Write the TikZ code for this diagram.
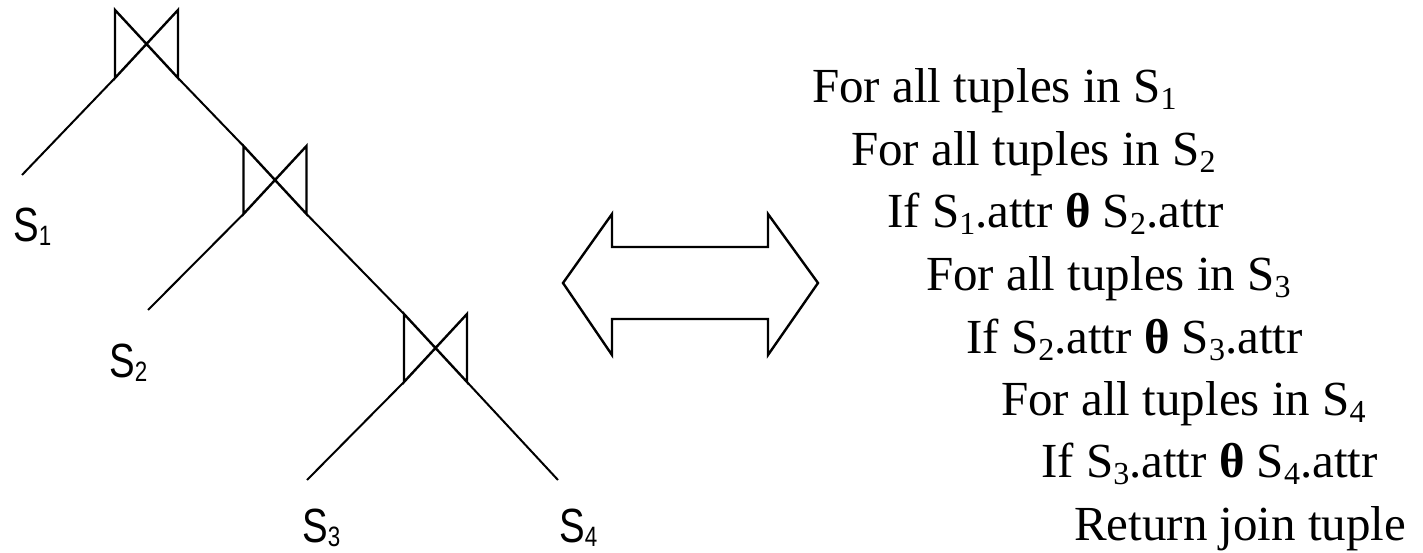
\documentclass[tikz,border=0pt]{standalone}
\usepackage{fontspec}
\setmainfont{Liberation Serif}
\newfontfamily\relfont[FakeStretch=0.8]{Liberation Sans}
% lowered, smaller indices for relation names (no added depth)
\newcommand\codesub[1]{\raisebox{-7pt}[\height][0pt]{\fontsize{32}{32}\selectfont #1}}
\newcommand\relsub[1]{\raisebox{-4pt}[\height][0pt]{\fontsize{28}{28}\selectfont #1}}
\newcommand\thetaop{\textbf{θ}}
\tikzset{
  % bow-tie join symbol with named corners
  joinsym/.pic={
    \draw[line width=2.4pt, line join=miter]
      (-31.5,-34) -- (-31.5,34) -- (31.5,-34) -- (31.5,34) -- cycle;
    \coordinate (-tl) at (-31.5,-34);
    \coordinate (-bl) at (-31.5,34);
    \coordinate (-br) at (31.5,34);
  },
  leg/.style={line width=2pt},
  rel/.style={font=\relfont\fontsize{48}{48}\selectfont, inner sep=0pt, anchor=base west},
  code/.style={font=\fontsize{49}{49}\selectfont, inner sep=0pt, anchor=base west},
  twoway/.style={line width=2.4pt, line join=miter},
}
\begin{document}
\begin{tikzpicture}[x=1pt, y=-1pt]
\useasboundingbox (0,0) rectangle (1423,553);

% left-deep join tree
\pic (j1) at (146.5,44) {joinsym};
\pic (j2) at (275,180) {joinsym};
\pic (j3) at (435.5,348) {joinsym};

\coordinate (l1) at (22,175);
\coordinate (l2) at (148,310);
\coordinate (l3) at (307,480);
\coordinate (l4) at (558,480);

\draw[leg] (j1-bl) -- (l1);
\draw[leg] (j1-br) -- (j2-tl);
\draw[leg] (j2-bl) -- (l2);
\draw[leg] (j2-br) -- (j3-tl);
\draw[leg] (j3-bl) -- (l3);
\draw[leg] (j3-br) -- (l4);

\node[rel] (s1) at (13,242) {S\relsub{1}};
\node[rel] (s2) at (109,377) {S\relsub{2}};
\node[rel] (s3) at (302,542) {S\relsub{3}};
\node[rel] (s4) at (559,542) {S\relsub{4}};

% double-headed outline arrow
\draw[twoway] (563,283) -- (612,214) -- (612,247) -- (768,247) -- (768,214)
  -- (818,283) -- (768,355) -- (768,319) -- (612,319) -- (612,355) -- cycle;

% nested-loop evaluation
\node[code] (c1) at (812,103) {For all tuples in S\codesub{1}};
\node[code] (c2) at (851,166) {For all tuples in S\codesub{2}};
\node[code] (c3) at (887,228) {If S\codesub{1}.attr \thetaop{} S\codesub{2}.attr};
\node[code] (c4) at (926,290) {For all tuples in S\codesub{3}};
\node[code] (c5) at (966,353) {If S\codesub{2}.attr \thetaop{} S\codesub{3}.attr};
\node[code] (c6) at (1001,415) {For all tuples in S\codesub{4}};
\node[code] (c7) at (1041,477) {If S\codesub{3}.attr \thetaop{} S\codesub{4}.attr};
\node[code] (c8) at (1074,540) {Return join tuple};
\end{tikzpicture}
\end{document}
